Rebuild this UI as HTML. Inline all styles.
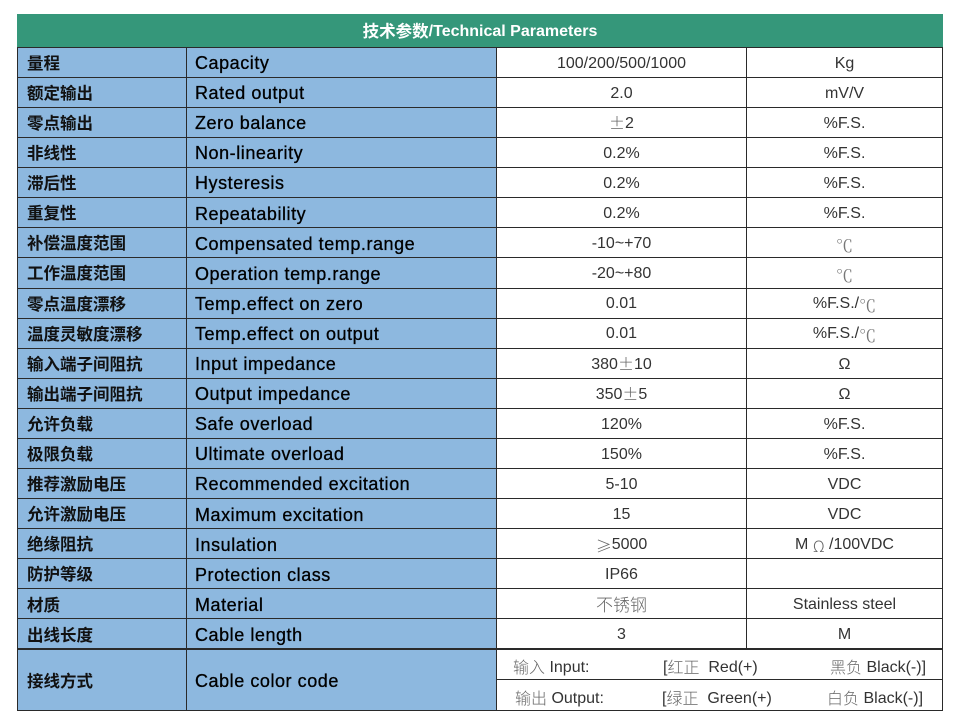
<!DOCTYPE html>
<html><head><meta charset="utf-8">
<style>
html,body{margin:0;padding:0;background:#fff;}
body{width:953px;height:719px;position:relative;overflow:hidden;font-family:"Liberation Sans","Noto Sans CJK SC",sans-serif;}
.a{position:absolute;}
.hdr{left:17px;top:14px;width:926px;height:33px;background:#35977a;color:#fff;font-weight:bold;font-size:16px;display:flex;align-items:center;justify-content:center;padding-top:3px;box-sizing:border-box;}
.hdr .cn{font-family:"Noto Sans CJK SC",sans-serif;font-size:16.5px;position:relative;top:-2px;}
.blue{left:17px;top:47px;width:479px;height:664px;background:#8db8df;}
.hl{left:17px;width:926px;height:1px;background:#2a2a2a;}
.vl{top:47px;width:1px;background:#2a2a2a;}
.row{position:absolute;left:17px;width:926px;height:30px;}
.c1,.c2,.c3,.c4{position:absolute;top:0;height:30px;display:flex;align-items:center;white-space:nowrap;line-height:1;box-sizing:border-box;}
.c1{left:10px;font-family:"Noto Sans CJK SC",sans-serif;font-weight:bold;font-size:16.5px;color:#111;}
.c2{left:178px;font-family:"Liberation Sans",sans-serif;font-size:18px;letter-spacing:0.55px;color:#000;-webkit-text-stroke:0.3px #000;padding-top:2px;}
.c3{left:480px;width:249px;justify-content:center;font-size:16px;color:#333;padding-top:3px;}
.c4{left:729px;width:197px;justify-content:center;font-size:16px;color:#333;padding-top:3px;}
.g{font-family:"Noto Sans CJK SC",sans-serif;color:#666;font-weight:300;}
.pm{display:inline-block;width:16px;text-align:center;position:relative;top:-2px;}
.s{font-family:"Noto Serif CJK SC",serif;color:#777;font-size:17px;}
.cb{position:absolute;font-size:16px;color:#333;white-space:nowrap;height:30px;display:flex;align-items:center;line-height:1;padding-top:3px;box-sizing:border-box;}
.cb .g{position:relative;top:-2px;}
</style></head><body>
<div class="a hdr"><span class="cn">技术参数</span>/Technical Parameters</div>
<div class="a blue"></div>

<div class="row" style="top:47px"><div class="c1">量程</div><div class="c2">Capacity</div><div class="c3">100/200/500/1000</div><div class="c4">Kg</div></div>
<div class="row" style="top:77.1px"><div class="c1">额定输出</div><div class="c2">Rated output</div><div class="c3">2.0</div><div class="c4">mV/V</div></div>
<div class="row" style="top:107.2px"><div class="c1">零点输出</div><div class="c2">Zero balance</div><div class="c3"><span class="g pm">±</span>2</div><div class="c4">%F.S.</div></div>
<div class="row" style="top:137.3px"><div class="c1">非线性</div><div class="c2">Non-linearity</div><div class="c3">0.2%</div><div class="c4">%F.S.</div></div>
<div class="row" style="top:167.4px"><div class="c1">滞后性</div><div class="c2">Hysteresis</div><div class="c3">0.2%</div><div class="c4">%F.S.</div></div>
<div class="row" style="top:197.5px"><div class="c1">重复性</div><div class="c2">Repeatability</div><div class="c3">0.2%</div><div class="c4">%F.S.</div></div>
<div class="row" style="top:227.6px"><div class="c1">补偿温度范围</div><div class="c2">Compensated temp.range</div><div class="c3">-10~+70</div><div class="c4"><span class="s">℃</span></div></div>
<div class="row" style="top:257.7px"><div class="c1">工作温度范围</div><div class="c2">Operation temp.range</div><div class="c3">-20~+80</div><div class="c4"><span class="s">℃</span></div></div>
<div class="row" style="top:287.8px"><div class="c1">零点温度漂移</div><div class="c2">Temp.effect on zero</div><div class="c3">0.01</div><div class="c4">%F.S./<span class="s">℃</span></div></div>
<div class="row" style="top:317.9px"><div class="c1">温度灵敏度漂移</div><div class="c2">Temp.effect on output</div><div class="c3">0.01</div><div class="c4">%F.S./<span class="s">℃</span></div></div>
<div class="row" style="top:348px"><div class="c1">输入端子间阻抗</div><div class="c2">Input impedance</div><div class="c3">380<span class="g pm">±</span>10</div><div class="c4">Ω</div></div>
<div class="row" style="top:378.1px"><div class="c1">输出端子间阻抗</div><div class="c2">Output impedance</div><div class="c3">350<span class="g pm">±</span>5</div><div class="c4">Ω</div></div>
<div class="row" style="top:408.2px"><div class="c1">允许负载</div><div class="c2">Safe overload</div><div class="c3">120%</div><div class="c4">%F.S.</div></div>
<div class="row" style="top:438.3px"><div class="c1">极限负载</div><div class="c2">Ultimate overload</div><div class="c3">150%</div><div class="c4">%F.S.</div></div>
<div class="row" style="top:468.4px"><div class="c1">推荐激励电压</div><div class="c2">Recommended excitation</div><div class="c3">5-10</div><div class="c4">VDC</div></div>
<div class="row" style="top:498.5px"><div class="c1">允许激励电压</div><div class="c2">Maximum excitation</div><div class="c3">15</div><div class="c4">VDC</div></div>
<div class="row" style="top:528.6px"><div class="c1">绝缘阻抗</div><div class="c2">Insulation</div><div class="c3"><span class="g">≥</span>5000</div><div class="c4">M&nbsp;<span class="g">Ω</span>&nbsp;/100VDC</div></div>
<div class="row" style="top:558.7px"><div class="c1">防护等级</div><div class="c2">Protection class</div><div class="c3">IP66</div><div class="c4"></div></div>
<div class="row" style="top:588.8px"><div class="c1">材质</div><div class="c2">Material</div><div class="c3"><span class="g" style="font-size:17px;position:relative;top:-2px">不锈钢</span></div><div class="c4">Stainless steel</div></div>
<div class="row" style="top:618.9px"><div class="c1">出线长度</div><div class="c2">Cable length</div><div class="c3">3</div><div class="c4">M</div></div>
<div class="row" style="top:649px;height:62px"><div class="c1" style="height:62px">接线方式</div><div class="c2" style="height:62px">Cable color code</div></div>

<div class="cb" style="left:513px;top:651px"><span class="g">输入</span>&nbsp;Input:</div>
<div class="cb" style="left:663px;top:651px">[<span class="g">红正</span>&nbsp; Red(+)</div>
<div class="cb" style="left:830px;top:651px"><span class="g">黑负</span>&nbsp;Black(-)]</div>
<div class="cb" style="left:515px;top:682px"><span class="g">输出</span>&nbsp;Output:</div>
<div class="cb" style="left:662px;top:682px">[<span class="g">绿正</span>&nbsp; Green(+)</div>
<div class="cb" style="left:827px;top:682px"><span class="g">白负</span>&nbsp;Black(-)]</div>

<!-- horizontal lines -->
<div class="a hl" style="top:47px"></div>
<div class="a hl" style="top:77px"></div>
<div class="a hl" style="top:107px"></div>
<div class="a hl" style="top:137px"></div>
<div class="a hl" style="top:167px"></div>
<div class="a hl" style="top:197px"></div>
<div class="a hl" style="top:227px"></div>
<div class="a hl" style="top:257px"></div>
<div class="a hl" style="top:288px"></div>
<div class="a hl" style="top:318px"></div>
<div class="a hl" style="top:348px"></div>
<div class="a hl" style="top:378px"></div>
<div class="a hl" style="top:408px"></div>
<div class="a hl" style="top:438px"></div>
<div class="a hl" style="top:468px"></div>
<div class="a hl" style="top:498px"></div>
<div class="a hl" style="top:528px"></div>
<div class="a hl" style="top:558px"></div>
<div class="a hl" style="top:588px"></div>
<div class="a hl" style="top:618px"></div>
<div class="a hl" style="top:648px;height:2px"></div>
<div class="a hl" style="left:496px;width:447px;top:679px"></div>
<div class="a hl" style="top:710px"></div>
<!-- vertical lines -->
<div class="a vl" style="left:17px;height:664px"></div>
<div class="a vl" style="left:186px;height:664px"></div>
<div class="a vl" style="left:496px;height:664px"></div>
<div class="a vl" style="left:746px;height:602px"></div>
<div class="a vl" style="left:942px;height:664px"></div>
</body></html>
